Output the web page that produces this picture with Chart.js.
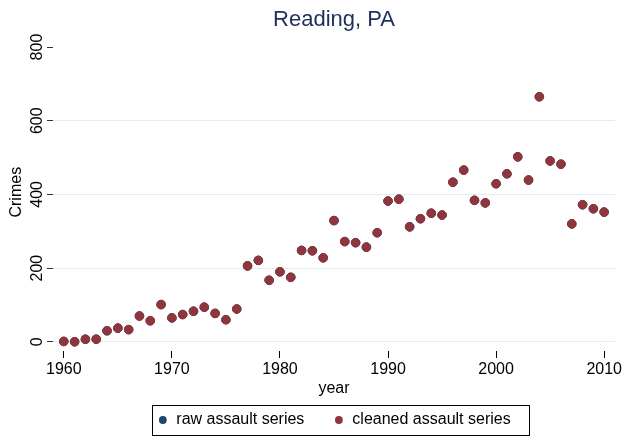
<!DOCTYPE html>
<html>
<head>
<meta charset="utf-8">
<script src="https://cdn.jsdelivr.net/npm/chart.js@4.4.1/dist/chart.umd.min.js"></script>
<style>
  html, body { margin: 0; padding: 0; background: #fff; }
  #wrap { width: 625px; height: 439px; }
</style>
</head>
<body>
<div id="wrap"><canvas id="crimeChart"></canvas></div>
<script>
// Reading, PA - yearly assault counts
const years = [1960, 1961, 1962, 1963, 1964, 1965, 1966, 1967, 1968, 1969,
               1970, 1971, 1972, 1973, 1974, 1975, 1976, 1977, 1978, 1979,
               1980, 1981, 1982, 1983, 1984, 1985, 1986, 1987, 1988, 1989,
               1990, 1991, 1992, 1993, 1994, 1995, 1996, 1997, 1998, 1999,
               2000, 2001, 2002, 2003, 2004, 2005, 2006, 2007, 2008, 2009, 2010];
const cleanedAssault = [1, 0, 7, 7, 30, 37, 33, 70, 57, 101,
                        65, 74, 83, 94, 77, 60, 89, 206, 221, 167,
                        190, 175, 248, 247, 228, 329, 272, 269, 257, 296,
                        382, 387, 312, 334, 349, 344, 433, 466, 384, 377,
                        429, 456, 502, 439, 665, 491, 482, 320, 372, 361, 352];
// raw series sits right under the cleaned one (same counts for this city)
const rawAssault = [1, 0, 7, 7, 30, 37, 33, 70, 57, 101,
                    65, 74, 83, 94, 77, 60, 89, 206, 221, 167,
                    190, 175, 248, 247, 228, 329, 272, 269, 257, 296,
                    382, 387, 312, 334, 349, 344, 433, 466, 384, 377,
                    429, 456, 502, 439, 665, 491, 482, 320, 372, 361, 352];
const xTicks = [1960, 1970, 1980, 1990, 2000, 2010];
const yTicks = [0, 200, 400, 600, 800];
const seriesNames = ['raw assault series', 'cleaned assault series'];

const FONT = 'Liberation Sans';

function toPoints(values) {
    return years.map((yr, i) => ({ x: yr, y: values[i] }));
}

// rotated y tick labels + frame round the legend
const extrasPlugin = {
    id: 'extras',
    afterDraw(chart) {
        const ctx = chart.ctx;
        const yScale = chart.scales.y;
        ctx.save();
        ctx.font = '16px "' + FONT + '"';
        ctx.fillStyle = '#000';
        ctx.textAlign = 'center';
        ctx.textBaseline = 'alphabetic';
        yTicks.forEach(v => {
            ctx.save();
            ctx.translate(yScale.right - 11.5, yScale.getPixelForValue(v));
            ctx.rotate(-Math.PI / 2);
            ctx.fillText(String(v), 0, 0);
            ctx.restore();
        });

        const boxes = chart.legend.legendHitBoxes;
        if (boxes && boxes.length) {
            const first = boxes[0];
            const last = boxes[boxes.length - 1];
            const cy = first.top + first.height / 2;
            const left = Math.round(first.left - 5.5) + 0.5;
            const right = Math.round(last.left + last.width + 18) + 0.5;
            const top = Math.round(cy - 15) + 0.5;
            const bottom = Math.round(cy + 14.5) + 0.5;
            ctx.strokeStyle = '#000';
            ctx.lineWidth = 1;
            ctx.strokeRect(left, top, right - left, bottom - top);
        }
        ctx.restore();
    }
};

const ctx = document.getElementById('crimeChart').getContext('2d');
const crimeChart = new Chart(ctx, {
    type: 'scatter',
    data: {
        datasets: [{
            label: seriesNames[0],
            data: toPoints(rawAssault),
            backgroundColor: '#1a476f',
            borderColor: '#1a476f',
            pointRadius: 4.3,
            borderWidth: 1,
            order: 2
        }, {
            label: seriesNames[1],
            data: toPoints(cleanedAssault),
            backgroundColor: '#90353b',
            borderColor: '#90353b',
            pointRadius: 4.3,
            borderWidth: 1,
            order: 1
        }]
    },
    options: {
        responsive: true,
        maintainAspectRatio: false,
        animation: false,
        devicePixelRatio: 1,
        layout: {
            padding: { top: 0, right: 10, bottom: 1, left: 0 }
        },
        scales: {
            x: {
                type: 'linear',
                min: 1959,
                max: 2011,
                afterBuildTicks: scale => { scale.ticks = xTicks.map(v => ({ value: v })); },
                afterFit: scale => { scale.height = 56; },
                ticks: {
                    autoSkip: false,
                    maxRotation: 0,
                    padding: 2,
                    color: '#000',
                    font: { family: FONT, size: 16 },
                    callback: v => String(v)
                },
                grid: {
                    drawOnChartArea: false,
                    drawTicks: true,
                    tickLength: 7,
                    tickColor: '#000'
                },
                border: { display: false },
                title: {
                    display: true,
                    text: 'year',
                    color: '#000',
                    font: { family: FONT, size: 16 },
                    padding: { top: 0, bottom: 9 }
                }
            },
            y: {
                type: 'linear',
                min: -25,
                max: 837,
                afterBuildTicks: scale => { scale.ticks = yTicks.map(v => ({ value: v })); },
                afterFit: scale => { scale.width = 53; },
                ticks: { display: false },
                grid: {
                    color: c => (c.tick && c.tick.value === 800) ? 'rgba(0,0,0,0)' : '#e3edf0',
                    drawTicks: true,
                    tickLength: 6,
                    tickColor: '#333'
                },
                border: { display: false },
                title: {
                    display: true,
                    text: 'Crimes',
                    color: '#000',
                    font: { family: FONT, size: 16 },
                    padding: { top: 7, bottom: 0 }
                }
            }
        },
        plugins: {
            title: {
                display: true,
                text: 'Reading, PA',
                color: '#1e2f5a',
                fullSize: false,
                font: { family: FONT, size: 22, weight: 'normal' },
                padding: { top: 7, bottom: 0 }
            },
            legend: {
                position: 'bottom',
                fullSize: false,
                onClick: () => {},
                labels: {
                    usePointStyle: true,
                    pointStyle: 'circle',
                    boxWidth: 11,
                    boxHeight: 5.5,
                    padding: 5,
                    color: '#000',
                    font: { family: FONT, size: 16 },
                    generateLabels: chart => {
                        const items = Chart.defaults.plugins.legend.labels.generateLabels(chart);
                        // keep dataset order (raw first) even though cleaned is drawn on top
                        items.sort((a, b) => a.datasetIndex - b.datasetIndex);
                        items.forEach(it => { it.lineWidth = 0; });
                        // empty spacer so the two keys sit apart like the original
                        items.splice(1, 0, {
                            text: '',
                            fillStyle: 'rgba(0,0,0,0)',
                            strokeStyle: 'rgba(0,0,0,0)',
                            lineWidth: 0,
                            pointStyle: 'circle',
                            hidden: false,
                            datasetIndex: -1
                        });
                        return items;
                    }
                }
            },
            tooltip: { enabled: false }
        }
    },
    plugins: [extrasPlugin]
});
</script>
</body>
</html>
